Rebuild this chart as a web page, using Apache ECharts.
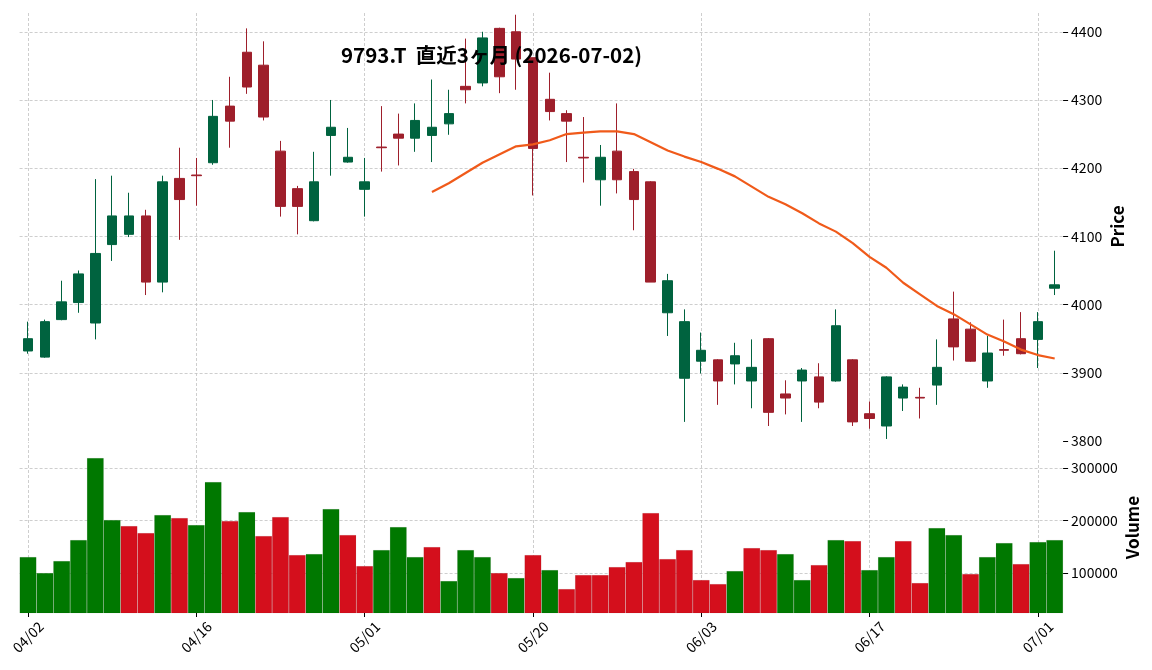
<!DOCTYPE html>
<html><head><meta charset="utf-8">
<script src="https://cdn.jsdelivr.net/npm/echarts@6/dist/echarts.min.js"></script>
<style>html,body{margin:0;padding:0;background:#fff}#c{width:1152px;height:670px}</style>
</head><body><div id="c"></div>
<script>
const titleText = '9793.T  直近3ヶ月 (2026-07-02)';
const dates = [
 '04/02','04/03','04/06','04/07','04/08','04/09','04/10','04/13','04/14','04/15',
 '04/16','04/17','04/20','04/21','04/22','04/23','04/24','04/27','04/28','04/30',
 '05/01','05/07','05/08','05/11','05/12','05/13','05/14','05/15','05/18','05/19',
 '05/20','05/21','05/22','05/25','05/26','05/27','05/28','05/29','06/01','06/02',
 '06/03','06/04','06/05','06/08','06/09','06/10','06/11','06/12','06/15','06/16',
 '06/17','06/18','06/19','06/22','06/23','06/24','06/25','06/26','06/29','06/30',
 '07/01','07/02'];
const openP = [
 3932,3923,3978,4003,3973,4088,4103,4130,4033,4185,
 4190,4208,4291,4370,4351,4225,4170,4123,4248,4209,
 4169,4231,4250,4244,4248,4265,4320,4325,4405,4400,
 4362,4301,4280,4216,4183,4225,4195,4180,3988,3892,
 3917,3919,3913,3888,3950,3869,3888,3894,3888,3919,
 3840,3822,3863,3864,3882,3979,3964,3888,3934,3950,
 3949,4024];
const highP = [
 3975,3978,4035,4050,4184,4189,4164,4139,4189,4230,
 4215,4300,4334,4405,4386,4240,4174,4224,4300,4259,
 4215,4291,4280,4295,4330,4315,4390,4400,4406,4425,
 4362,4340,4285,4275,4234,4295,4199,4181,4045,3993,
 3959,3920,3944,3949,3951,3889,3907,3914,3993,3920,
 3858,3895,3883,3878,3949,4019,3974,3954,3978,3989,
 3989,4079];
const lowP = [
 3928,3922,3977,3988,3949,4064,4099,4014,4018,4095,
 4145,4205,4230,4309,4270,4129,4103,4122,4189,4208,
 4129,4195,4204,4224,4209,4249,4295,4320,4310,4315,
 4160,4270,4209,4179,4145,4163,4109,4033,3954,3828,
 3899,3853,3883,3848,3822,3839,3828,3848,3887,3822,
 3818,3803,3844,3833,3853,3918,3916,3878,3925,3927,
 3907,4014];
const closeP = [
 3950,3975,4004,4045,4075,4130,4130,4033,4180,4154,
 4189,4276,4269,4319,4275,4144,4144,4180,4260,4216,
 4180,4230,4244,4270,4260,4280,4315,4391,4334,4360,
 4229,4283,4269,4215,4216,4183,4154,4033,4035,3975,
 3933,3888,3925,3908,3842,3863,3904,3857,3969,3828,
 3833,3894,3879,3863,3908,3938,3917,3929,3933,3928,
 3975,4029];
const maStart = 24;
const maValues = [
 4165,4178,4193,4208,4220,4232,4235,4241,4250,4252,
 4254,4254,4250,4238,4226,4217,4209,4199,4188,4173,
 4158,4147,4134,4119,4107,4090,4070,4054,4032,4015,
 3998,3986,3971,3956,3946,3934,3926,3921];
const volume = [
 130500,100000,122900,162900,319000,201000,189500,176200,210500,204800,
 191400,273300,199000,216200,170500,206700,134300,136200,221900,172400,
 113300,143800,187600,130500,149500,84800,143800,130500,100000,90500,
 134300,105700,69500,96200,96200,111400,121000,214300,126700,143800,
 86700,79000,103800,147600,143800,136200,86700,115200,162900,160900,
 105700,130500,160900,81000,185700,172400,98100,130500,157100,117100,
 159000,162900];
const volUp = [
 1,1,1,1,1,1,0,0,1,0,
 1,1,0,1,0,0,0,1,1,0,
 0,1,1,1,0,1,1,1,0,1,
 0,1,0,0,0,0,0,0,0,0,
 0,0,1,0,0,1,1,0,1,0,
 1,1,0,0,1,1,0,1,1,0,
 1,1];
const priceTicks = [3800,3900,4000,4100,4200,4300,4400];
const volTicks = [100000,200000,300000];
const labelStep = 10;

const FONT = '"Noto Sans CJK JP", "Noto Sans", sans-serif';
const UP = '#00633f', DOWN = '#9e1f2b';
const VUP = '#007800', VDOWN = '#d40f1c';
const gridLine = {type:[3,2], color:'#c2c2c2', width:0.8};

const candleData = dates.map((d,i)=>[openP[i], closeP[i], lowP[i], highP[i]]);
const maData = dates.map((d,i)=> i < maStart ? null : maValues[i - maStart]);
const volData = volume.map((v,i)=>({value:v, itemStyle:{color: volUp[i] ? VUP : VDOWN}}));
const every = (i)=> i % labelStep === 0;
const vLines = dates.filter((d,i)=>every(i)).map(d=>({xAxis:d}));
const plain = (v)=> String(v);

const L = 19.6, R = 1152 - 1063.1;
const chart = echarts.init(document.getElementById('c'), null, {renderer:'canvas'});
chart.setOption({
  animation:false,
  backgroundColor:'#fff',
  title:{text:titleText, left:336, top:40, textStyle:{fontFamily:FONT, fontWeight:'bold', fontSize:20.5, color:'#000'}},
  grid:[
    {left:L, right:R, top:12, height:429},
    {left:L, right:R, top:442, height:171}
  ],
  xAxis:[
    {type:'category', gridIndex:0, data:dates, boundaryGap:true,
     axisLine:{show:false}, axisTick:{show:false}, axisLabel:{show:false}, splitLine:{show:false}},
    {type:'category', gridIndex:1, data:dates, boundaryGap:true,
     axisLine:{show:false},
     axisTick:{show:true, alignWithLabel:true, interval:(i)=>every(i), length:4, lineStyle:{color:'#000', width:1}},
     axisLabel:{show:true, interval:(i)=>every(i), rotate:45, align:'center', verticalAlign:'middle', margin:24,
       fontFamily:FONT, fontSize:14, color:'#000'},
     splitLine:{show:false}}
  ],
  yAxis:[
    {type:'value', gridIndex:0, position:'right', min:3800, max:4429, scale:true,
     axisLine:{show:false},
     axisTick:{show:true, customValues:priceTicks, length:5, inside:false, lineStyle:{color:'#000'}},
     axisLabel:{customValues:priceTicks, formatter:plain, margin:8, fontFamily:FONT, fontSize:14, color:'#000'},
     splitLine:{show:false},
     name:'Price', nameLocation:'middle', nameRotate:90, nameGap:46, nameMoveOverlap:false,
     nameTextStyle:{fontFamily:FONT, fontWeight:'bold', fontSize:17, color:'#000'}},
    {type:'value', gridIndex:1, position:'right', min:23800, max:349500,
     axisLine:{show:false},
     axisTick:{show:true, customValues:volTicks, length:5, lineStyle:{color:'#000'}},
     axisLabel:{customValues:volTicks, formatter:plain, margin:8, fontFamily:FONT, fontSize:14, color:'#000'},
     splitLine:{show:false},
     name:'Volume', nameLocation:'middle', nameRotate:90, nameGap:61, nameMoveOverlap:false,
     nameTextStyle:{fontFamily:FONT, fontWeight:'bold', fontSize:17, color:'#000'}}
  ],
  series:[
    {type:'line', xAxisIndex:0, yAxisIndex:0, data:[], z:1, silent:true,
     markLine:{z:1, silent:true, symbol:'none', label:{show:false}, lineStyle:gridLine, animation:false,
       data: vLines.concat(priceTicks.filter(v=>v>3800).map(v=>({yAxis:v})))}},
    {type:'line', xAxisIndex:1, yAxisIndex:1, data:[], z:1, silent:true,
     markLine:{z:1, silent:true, symbol:'none', label:{show:false}, lineStyle:gridLine, animation:false,
       data: vLines.concat(volTicks.map(v=>({yAxis:v})))}},
    {type:'candlestick', xAxisIndex:0, yAxisIndex:0, data:candleData, barWidth:10, z:3,
     itemStyle:{color:UP, color0:DOWN, borderColor:UP, borderColor0:DOWN, borderWidth:1}},
    {type:'line', xAxisIndex:0, yAxisIndex:0, data:maData, z:4, symbol:'none', smooth:false,
     lineStyle:{color:'#f05a1a', width:2.2}},
    {type:'bar', xAxisIndex:1, yAxisIndex:1, data:volData, barWidth:'100%', barCategoryGap:'0%', z:3,
     itemStyle:{borderColor:'rgba(0,0,0,0.12)', borderWidth:0.5}}
  ]
});
</script></body></html>
